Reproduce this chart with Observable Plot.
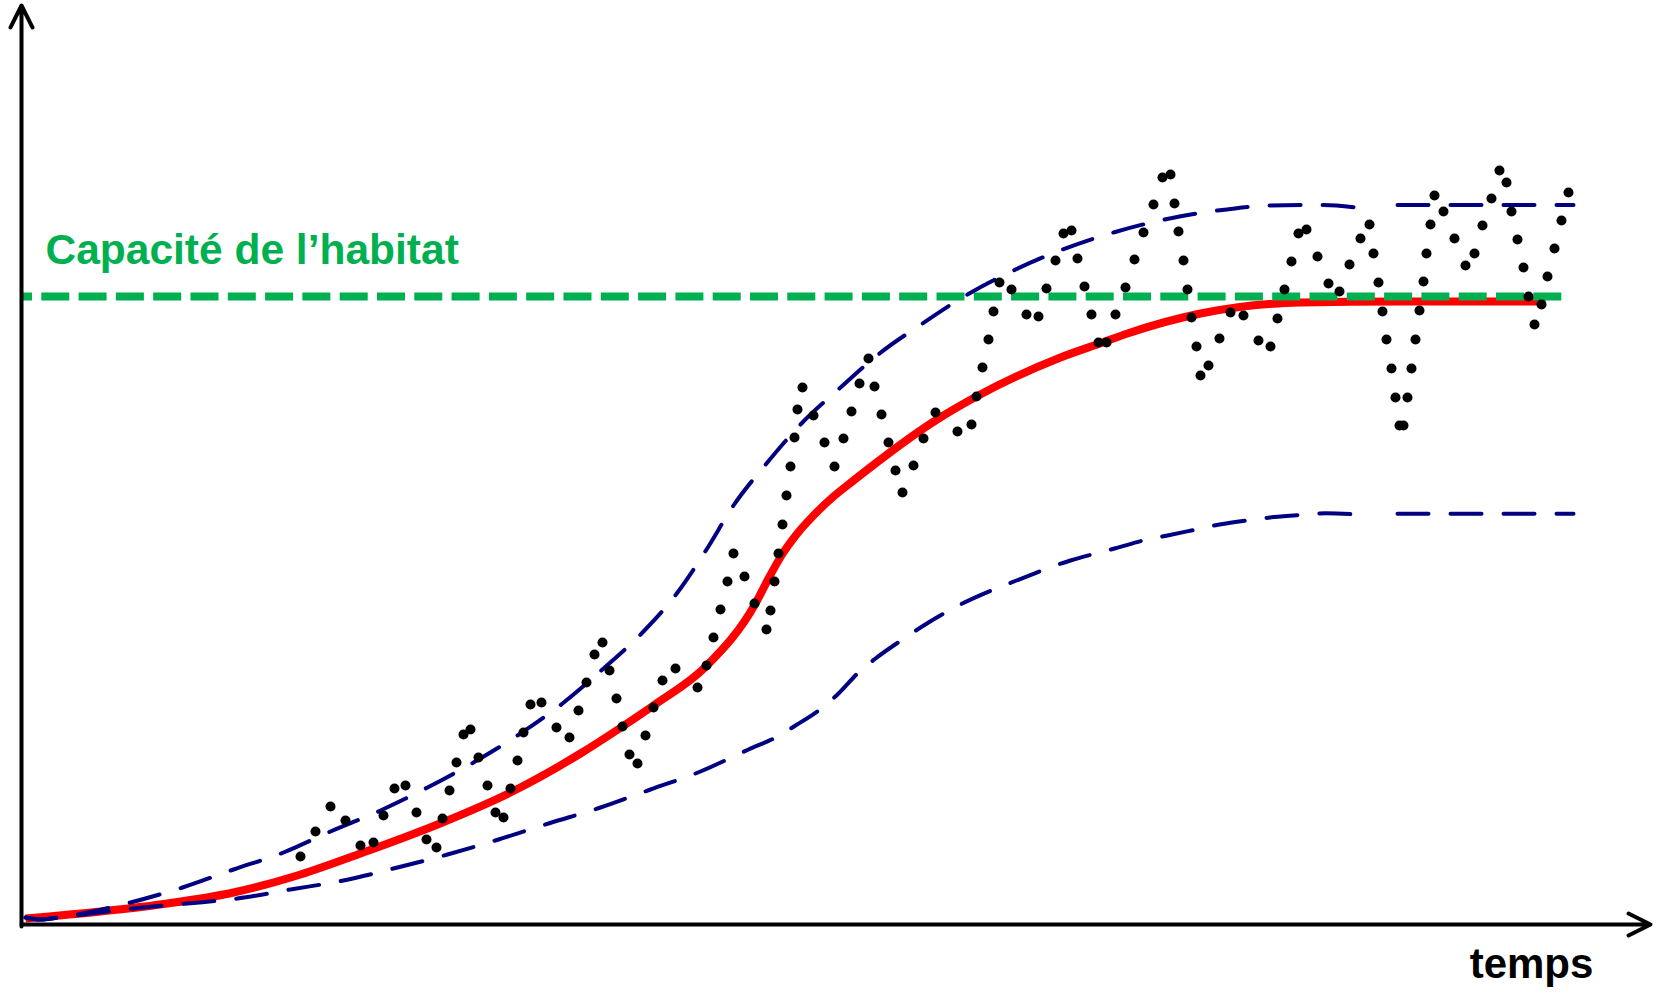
<!DOCTYPE html>
<html>
<head>
<meta charset="utf-8">
<script src="https://cdn.jsdelivr.net/npm/d3@7"></script>
<script src="https://cdn.jsdelivr.net/npm/@observablehq/plot@0.6"></script>
<style>
  html, body { margin: 0; padding: 0; background: #fff; }
  svg { display: block; }
</style>
</head>
<body>
<div id="chart"></div>
<script>
// Carrying capacity of the habitat (population units)
const K = 314;
const capacityLabel = "Capacité de l’habitat";
const xLabel = "temps";

// Axis extents (data units)
const tMax = 162.9;
const nMax = 459.5;
const kEnd = 154.1;

// Observed population (dots)
const dotT = [27.9,29.4,30.9,32.4,33.9,35.2,36.2,37.3,38.4,39.5,40.5,41.5,42.1,42.8,43.5,44.2,44.9,45.7,46.6,47.4,48.2,48.9,49.6,50.2,50.9,52.0,53.5,54.8,55.7,56.5,57.3,58.1,58.8,59.5,60.1,
60.8,61.6,62.4,63.2,64.1,65.4,67.6,68.5,69.2,69.9,70.6,71.2,72.3,73.3,74.5,74.9,75.3,75.7,76.1,76.5,76.9,77.3,77.6,78.1,79.2,80.3,81.3,82.2,83.0,83.8,84.7,85.3,86.0,86.7,87.4,88.1,89.2,90.2,91.4,93.6,95.0,
95.5,96.1,96.7,97.2,97.8,99.0,100.5,101.7,102.5,103.4,104.2,105.0,105.6,106.3,107.0,107.7,108.5,109.4,110.4,111.3,112.2,113.2,114.1,114.9,115.3,115.7,116.2,116.6,117.0,117.5,117.9,118.7,119.8,120.9,122.2,123.7,124.9,125.6,126.3,127.0,127.7,128.5,129.6,130.7,131.8,132.8,133.9,134.8,135.2,135.7,136.1,136.5,137.0,137.4,137.8,138.2,138.6,139.0,139.4,139.8,140.2,140.5,140.9,141.3,142.2,143.3,144.4,145.3,146.1,147.0,147.8,148.5,149.0,149.6,150.2,150.7,151.3,152.0,152.6,153.3,154.0,154.7];
const dotN = [34,46.5,59,52,39.5,41,54.5,68,69.5,56,42.5,38.5,53,67,81,95,97.5,83.5,69.5,56,53.5,68,82,96,110,111,98.5,93.5,107,121,135,141,127,113,99,
85,80.5,94.5,108.5,122,128,118.5,129.5,143.5,157.5,171.5,185.5,174,160.5,147.5,157,171.5,185.5,200,214.5,229,243.5,257.5,268.5,254.5,241,229,243,256.5,270.5,283,269,255,241,227,216,229.5,243,256,246.5,250,
264,278.5,292.5,306.5,321,317.5,305,304,318,332,345.5,347,333,319,305,291,291,305,318.5,332.5,346,360,373.5,375,360.5,346.5,332,317.5,303.5,289,274.5,279.5,293,306,304.5,292,289,303,317.5,331.5,345.5,347.5,334,320.5,316.5,330,343,350,335.5,321,306.5,292.5,278,263.5,249.5,249.5,263.5,278,292.5,307,321.5,335.5,350,364.5,356.5,343,329.5,335.5,349.5,363,377,371,356.5,342.5,328.5,314,300,310,324,338,352,366];

// Logistic model (red)
const modelT = [0.4,7.9,14.6,21.2,27.9,33.9,42.1,48.9,55.9,60.1,63.2,68.5,73.4,74.7,76.0,77.5,79.2,81.2,83.2,91.4,95.5,103.9,108.1,110.6,117.9,127.9,137.9,152.4];
const modelN = [3,6.5,10.5,16,25,35.5,51,66,85.5,99,109.5,129.3,160.5,173,184.5,195,204.5,214,222,252,264,283.5,291,295.5,305.5,311,311.5,311.5];

// Upper envelope (blue dashed): rising part, then plateau
const upperT = [0.4,1.9,3.7,10.9,16.1,21.2,26.2,30.9,35.9,40.6,45.2,49.9,54.1,58.2,62.1,65.6,68.5,71.2,74.5,77.9,81.9,85.8,90.1,94.6,99.2,104.1,109.2,114.3,119.6,124.9,130.2,133.4];
const upperN = [3.5,2.5,3.5,11,18.5,27.5,36,46.5,57,68.5,81,95.5,110.5,128,146,166,187.5,209.5,230.5,250,268.5,285.5,300.5,315,327,337.5,346,352.5,357,359.5,359.8,358.5];
const upperPlateauT = [137.6, 155.2];
const upperPlateauN = [359.8, 359.8];

// Lower envelope (blue dashed): rising part, then plateau
const lowerT = [0.4,1.9,3.7,11.2,16.6,21.6,26.9,32.2,37.6,42.6,47.7,52.7,57.9,62.9,67.9,72.7,75.6,77.4,80.1,81.6,83.8,85.4,88.1,89.9,93.7,99.5,104.9,107.4,109.3,112.5,114.6,117.8,119.8,123.1,125.2,128.3,130.4,133.6];
const lowerN = [3.5,2.5,3.5,8,10.5,13,17.5,22,28.5,35,42.5,50.5,58.5,67.5,76.5,87.5,94,99.5,108.5,115,126.5,133,142.5,148.5,159.5,172,182,185.5,188,192.4,194.5,197.9,200,202.4,203.7,204.9,205.6,205];
const lowerPlateauT = [137.6, 155.2];
const lowerPlateauN = [205.4, 205.4];

const zip = (T, N) => T.map((t, i) => ({t, n: N[i]}));
const dots = zip(dotT, dotN);
const model = zip(modelT, modelN);
const upper = zip(upperT, upperN);
const upperPlateau = zip(upperPlateauT, upperPlateauN);
const lower = zip(lowerT, lowerN);
const lowerPlateau = zip(lowerPlateauT, lowerPlateauN);

const font = "Arial, 'Liberation Sans', Helvetica, sans-serif";
const green = "#00B050";
const navy = "#000080";
const envStyle = {x: "t", y: "n", stroke: navy, strokeWidth: 4, curve: "monotone-x", strokeDasharray: "31,22", strokeLinecap: "round"};

const chart = Plot.plot({
  width: 1659,
  height: 995,
  margin: 0,
  x: {domain: [0, 163.8], range: [21, 1659], axis: null},
  y: {domain: [0, 462], range: [924, 0], axis: null},
  style: {fontFamily: font, background: "white"},
  marks: [
    // red logistic curve
    Plot.line(model, {x: "t", y: "n", stroke: "#FF0000", strokeWidth: 8, curve: "monotone-x", strokeLinecap: "butt"}),
    // carrying capacity
    Plot.ruleY([K], {x1: 0, x2: kEnd, stroke: green, strokeWidth: 8, strokeDasharray: "28,9.3", strokeDashoffset: 17}),
    // envelopes
    Plot.line(upper, envStyle),
    Plot.line(upperPlateau, envStyle),
    Plot.line(lower, envStyle),
    Plot.line(lowerPlateau, envStyle),
    // observations
    Plot.dot(dots, {x: "t", y: "n", r: 5, fill: "black", stroke: "none"}),
    // axes with arrows
    Plot.arrow([{x1: 0, y1: 0, x2: tMax, y2: 0}], {x1: "x1", y1: "y1", x2: "x2", y2: "y2", stroke: "black", strokeWidth: 4, headLength: 9.2, headAngle: 53}),
    Plot.arrow([{x1: 0, y1: -1, x2: 0, y2: nMax}], {x1: "x1", y1: "y1", x2: "x2", y2: "y2", stroke: "black", strokeWidth: 4, headLength: 9.2, headAngle: 53}),
    // labels
    Plot.text([capacityLabel], {x: 0, y: K, dx: 24, dy: -33, textAnchor: "start", lineAnchor: "bottom", fill: green, fontSize: 42.5, fontWeight: "bold", fontFamily: font}),
    Plot.text([xLabel], {x: tMax, y: 0, dx: -119, dy: 53, textAnchor: "middle", lineAnchor: "bottom", fill: "black", fontSize: 42, fontWeight: "bold", fontFamily: font})
  ]
});
document.getElementById("chart").appendChild(chart);
</script>
</body>
</html>
